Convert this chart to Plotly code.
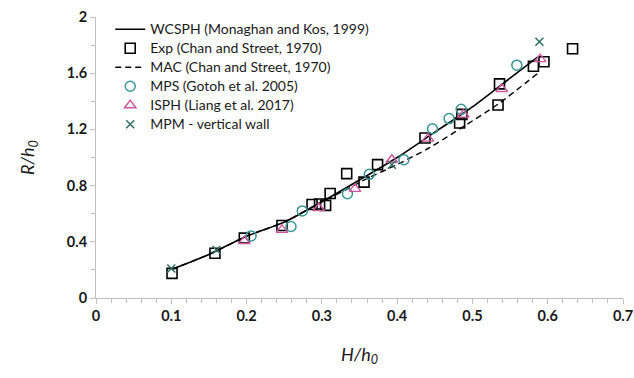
import plotly.graph_objects as go

# WCSPH (Monaghan and Kos, 1999) - solid line
wcsph_x = [0.101, 0.15, 0.2, 0.25, 0.3, 0.35, 0.4, 0.45, 0.5, 0.55, 0.587]
wcsph_y = [0.205, 0.31, 0.44, 0.54, 0.685, 0.84, 1.0, 1.18, 1.36, 1.565, 1.716]

# Exp (Chan and Street, 1970) - squares
exp_x = [0.101, 0.158, 0.197, 0.247, 0.287, 0.297, 0.305, 0.311, 0.333, 0.356,
         0.374, 0.437, 0.483, 0.486, 0.534, 0.536, 0.581, 0.595, 0.633]
exp_y = [0.175, 0.319, 0.426, 0.516, 0.665, 0.669, 0.659, 0.744, 0.885, 0.825,
         0.949, 1.139, 1.246, 1.307, 1.374, 1.524, 1.65, 1.681, 1.774]

# MAC (Chan and Street, 1970) - dashed line
mac_x = [0.101, 0.15, 0.2, 0.25, 0.3, 0.33, 0.36, 0.4, 0.443, 0.488, 0.534, 0.587]
mac_y = [0.205, 0.31, 0.44, 0.54, 0.685, 0.765, 0.85, 0.95, 1.07, 1.22, 1.38, 1.60]

# MPS (Gotoh et al. 2005) - circles
mps_x = [0.206, 0.259, 0.274, 0.334, 0.363, 0.409, 0.447, 0.469, 0.485, 0.559]
mps_y = [0.442, 0.509, 0.62, 0.742, 0.88, 0.984, 1.205, 1.277, 1.343, 1.657]

# ISPH (Liang et al. 2017) - triangles
isph_x = [0.197, 0.247, 0.296, 0.344, 0.393, 0.441, 0.488, 0.539, 0.59]
isph_y = [0.405, 0.485, 0.64, 0.777, 0.984, 1.134, 1.305, 1.488, 1.70]

# MPM - vertical wall - crosses
mpm_x = [0.1, 0.16, 0.393, 0.589]
mpm_y = [0.21, 0.342, 0.949, 1.824]

x_ticks = [0, 0.1, 0.2, 0.3, 0.4, 0.5, 0.6, 0.7]
y_ticks = [0, 0.4, 0.8, 1.2, 1.6, 2]


def lg(s):
    return f"<span style='font-size:14px'>{s}</span>"


fig = go.Figure()
fig.add_trace(go.Scatter(x=wcsph_x, y=wcsph_y, mode="lines",
                         name=lg("WCSPH (Monaghan and Kos, 1999)"),
                         line=dict(color="black", width=1.6, shape="spline", smoothing=0.8)))
fig.add_trace(go.Scatter(x=exp_x, y=exp_y, mode="markers",
                         name=lg("Exp (Chan and Street, 1970)"),
                         marker=dict(symbol="square-open", size=10, color="black",
                                     line=dict(width=1.6, color="black"))))
fig.add_trace(go.Scatter(x=mac_x, y=mac_y, mode="lines",
                         name=lg("MAC (Chan and Street, 1970)"),
                         line=dict(color="black", width=1.4, dash="6px,4px",
                                   shape="spline", smoothing=0.8)))
fig.add_trace(go.Scatter(x=mps_x, y=mps_y, mode="markers",
                         name=lg("MPS (Gotoh et al. 2005)"),
                         marker=dict(symbol="circle-open", size=10, color="#3a9696",
                                     line=dict(width=1.5, color="#3a9696"))))
fig.add_trace(go.Scatter(x=isph_x, y=isph_y, mode="markers",
                         name=lg("ISPH (Liang et al. 2017)"),
                         marker=dict(symbol="triangle-up-open", size=10, color="#d0559e",
                                     line=dict(width=1.4, color="#d0559e"))))
fig.add_trace(go.Scatter(x=mpm_x, y=mpm_y, mode="markers",
                         name=lg("MPM - vertical wall"),
                         marker=dict(symbol="x-thin-open", size=8, color="#2f6f60",
                                     line=dict(width=1.5, color="#2f6f60"))))

tickfont = dict(family="Lato", size=14.5, color="#1a1a1a", weight="bold")
axis_common = dict(showline=True, linecolor="#bfbfbf", linewidth=1,
                   ticks="outside", tickcolor="#bfbfbf", ticklen=5,
                   showgrid=False, zeroline=False, tickfont=tickfont,
                   automargin=False)

fig.update_xaxes(range=[0, 0.7], tickvals=x_ticks,
                 ticktext=[f"{v:g}" for v in x_ticks],
                 minor=dict(dtick=0.02, ticks="outside", ticklen=4, tickcolor="#bfbfbf"),
                 title=dict(text="<i>H/h<sub>0</sub></i>",
                            font=dict(family="Lato", size=18, color="#1a1a1a"),
                            standoff=24),
                 **axis_common)
fig.update_yaxes(range=[0, 2], tickvals=y_ticks,
                 ticktext=[f"{v:g}" for v in y_ticks],
                 minor=dict(dtick=0.2, ticks="outside", ticklen=4, tickcolor="#bfbfbf"),
                 title=dict(text="<i>R/h<sub>0</sub></i>",
                            font=dict(family="Lato", size=18, color="#1a1a1a"),
                            standoff=27),
                 **axis_common)

fig.update_layout(
    width=634, height=378,
    margin=dict(l=96, r=11, t=17, b=80, autoexpand=False),
    paper_bgcolor="white", plot_bgcolor="white",
    font=dict(family="Lato", color="#1a1a1a"),
    legend=dict(x=0.027, y=1.008, xanchor="left", yanchor="top",
                bgcolor="rgba(0,0,0,0)", font=dict(family="Lato", size=12, color="#1a1a1a"),
                tracegroupgap=0, itemwidth=30),
    showlegend=True,
)

fig.write_html("out.html", config={"displayModeBar": False},
               post_script="document.body.style.margin='0';document.body.style.padding='0';")
